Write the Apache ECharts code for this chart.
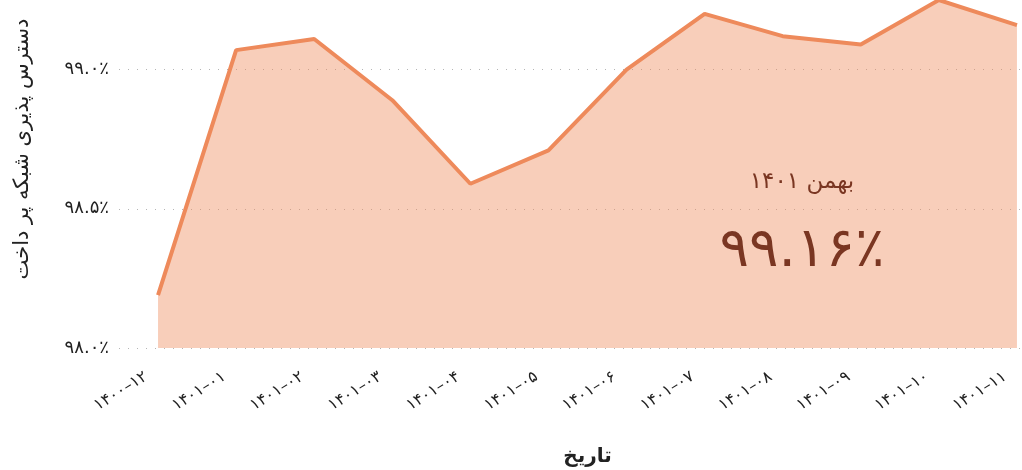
<!DOCTYPE html>
<html>
<head>
<meta charset="utf-8">
<script src="https://cdn.jsdelivr.net/npm/echarts@6/dist/echarts.min.js"></script>
<style>
  html, body { margin: 0; padding: 0; background: #fff; }
  #chart { width: 1022px; height: 470px; }
</style>
</head>
<body>
<div id="chart"></div>
<script>
// ماه‌ها (سال-ماه) و درصد دسترس‌پذیری
const months = ['1400-12', '1401-01', '1401-02', '1401-03', '1401-04', '1401-05',
  '1401-06', '1401-07', '1401-08', '1401-09', '1401-10', '1401-11'];
const availability = [98.19, 99.07, 99.11, 98.89, 98.59, 98.71,
  99.0, 99.2, 99.12, 99.09, 99.25, 99.16];
const yTicks = [98.0, 98.5, 99.0];

const highlightLabel = 'بهمن 1401';

const FONT = 'DejaVu Sans';
const LINE_COLOR = '#ee8a5b';
const TEXT_BROWN = '#7a3622';

function toFa(str) {
  return String(str).replace(/[0-9]/g, d => '۰۱۲۳۴۵۶۷۸۹'[+d]);
}

const last = availability[availability.length - 1];

const chart = echarts.init(document.getElementById('chart'));

chart.setOption({
  animation: false,
  grid: {
    left: 119,
    top: 0,
    width: 937,
    height: 348,
    containLabel: false,
    outerBoundsMode: 'none'
  },
  xAxis: {
    type: 'category',
    data: months,
    boundaryGap: true,
    name: 'تاریخ',
    nameLocation: 'middle',
    nameGap: 99,
    nameTextStyle: { fontFamily: FONT, fontSize: 20, fontWeight: 'bold', color: '#222' },
    axisLine: { show: false },
    axisTick: { show: false },
    axisLabel: {
      rotate: 32,
      margin: 20,
      padding: [0, 14, 0, 0],
      fontFamily: FONT,
      fontSize: 16,
      color: '#222',
      formatter: v => toFa(v.replace('-', '–'))
    }
  },
  yAxis: {
    type: 'value',
    min: yTicks[0],
    max: 99.25,
    interval: 0.5,
    name: 'دسترس پذیری شبکه پر داخت',
    nameLocation: 'middle',
    nameGap: 86,
    nameRotate: 90,
    nameTextStyle: { fontFamily: FONT, fontSize: 21, color: '#222', padding: [0, 0, 0, 50] },
    axisLine: { show: false },
    axisTick: { show: false },
    splitLine: {
      showMaxLine: false,
      lineStyle: { color: '#b5b5b5', type: [1, 8], width: 1 }
    },
    axisLabel: {
      showMaxLabel: false,
      margin: 10,
      fontFamily: FONT,
      fontSize: 18,
      color: '#222',
      formatter: v => (yTicks.indexOf(v) >= 0 ? toFa(v.toFixed(1)) + '٪' : '')
    }
  },
  series: [{
    type: 'line',
    data: availability,
    symbol: 'none',
    lineStyle: { color: LINE_COLOR, width: 4 },
    itemStyle: { color: LINE_COLOR },
    areaStyle: { color: LINE_COLOR, opacity: 0.42, origin: 'start' }
  }],
  graphic: [
    {
      type: 'text',
      x: 802,
      y: 182,
      style: {
        text: toFa(highlightLabel),
        fontFamily: FONT,
        fontSize: 23,
        fill: TEXT_BROWN,
        align: 'center',
        verticalAlign: 'middle'
      },
      z: 10
    },
    {
      type: 'text',
      x: 802,
      y: 252,
      style: {
        text: toFa(last.toFixed(2)) + '٪',
        fontFamily: FONT,
        fontSize: 55,
        fill: TEXT_BROWN,
        align: 'center',
        verticalAlign: 'middle'
      },
      z: 10
    }
  ]
});
</script>
</body>
</html>
